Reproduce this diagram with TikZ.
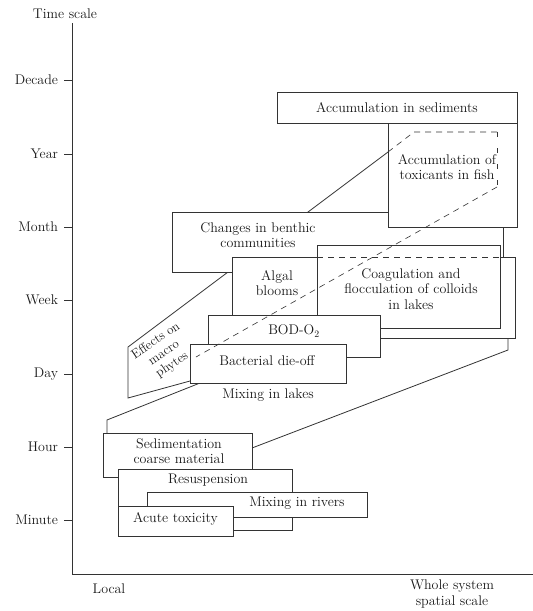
\documentclass[tikz,border=0pt]{standalone}
\usetikzlibrary{calc}
\begin{document}
\begin{tikzpicture}[x=1pt,y=-1pt, line width=0.8pt, draw=black!80,
  every node/.style={font=\fontsize{14}{15.5}\selectfont, inner sep=0pt, outer sep=0pt, align=center, text=black!90},
  bx/.style={draw=black!80, fill=white, line width=0.8pt},
  hid/.style={dash pattern=on 6pt off 5pt, line width=0.6pt},
  faint/.style={dash pattern=on 5pt off 11pt, line width=0.5pt}]
\useasboundingbox (0,0) rectangle (533,611);
% axes
\coordinate (ytop) at (72,23);
\coordinate (orig) at (72,574);
\coordinate (xend) at (533,574);
\draw (ytop) -- (orig) -- (xend);
\node (tscale) at (65,14) {Time scale};
\foreach \t/\y in {Decade/80,Year/154,Month/227,Week/300,Day/374,Hour/447,Minute/520}{
  \coordinate (tk\t) at (64,\y);
  \draw (tk\t) -- (72,\y);
  \node[anchor=east] (t\t) at (58,\y) {\t};
}
\node (local) at (109,589) {Local};
\node (whole) at (452,594) {Whole system\\spatial scale};

% Mixing in lakes and macrophyte lines (behind)
\coordinate (mlA) at (107,420);
\coordinate (mlB) at (508,350);
\coordinate (mA) at (128,347);
\coordinate (mB) at (128,398);

% geometry-only nodes for anchors
\path node[minimum width=149pt, minimum height=44pt] (sedimG) at (177.5,455) {};
\path node[minimum width=156pt, minimum height=39pt] (bactG) at (268,363.5) {};
\path node[minimum width=129pt, minimum height=104pt] (fishG) at (452.5,175) {};
\path node[minimum width=283pt, minimum height=81pt] (algalG) at (373.5,297.5) {};

\draw ([xshift=4pt]sedimG.north west) -- (mlA) -- ([xshift=10pt]bactG.south west);
\draw ([yshift=7pt]sedimG.east) -- (mlB) -- (algalG.south -| mlB);
\draw ([yshift=2pt]bactG.south west) -- (mB) -- (mA) -- ([yshift=23pt]fishG.west);

% upper boxes
\node[bx, minimum width=331pt, minimum height=60pt] (benthic) at (337.5,242) {};
\node[bx, minimum width=129pt, minimum height=104pt] (fish) at (452.5,175) {};
\node[bx, minimum width=240pt, minimum height=31pt] (sed) at (397,107.5) {Accumulation in sediments};
\node[bx, minimum width=283pt, minimum height=81pt] (algal) at (373.5,297.5) {};
\node[bx, minimum width=183pt, minimum height=83pt] (coag) at (408.5,286.5) {};
\node[bx, minimum width=172pt, minimum height=42pt] (bod) at (294,336) {};
\node[bx, minimum width=156pt, minimum height=39pt] (bact) at (268,363.5) {};

% lower boxes
\node[bx, minimum width=149pt, minimum height=44pt] (sedim) at (177.5,455) {};
\node[bx, minimum width=174pt, minimum height=61pt] (resusp) at (205,499.5) {};
\node[bx, minimum width=220pt, minimum height=25pt] (rivers) at (257,504.5) {};
\node[bx, minimum width=115pt, minimum height=30pt] (acute) at (175.5,521) {};

% hidden (dashed) edges
\coordinate (d1) at (414,132);
\coordinate (d2) at (497,132);
\coordinate (d3) at (497,187);
\coordinate (d4) at (196,357);
\draw[hid] ([yshift=23pt]fish.west) -- (d1) -- (d2);
\draw[faint] (d2) -- (d3);
\draw[hid] (d3) -- (d4);
\draw[hid] (coag.west |- algal.north) -- (coag.east |- algal.north);

% texts
\node (fishT) at (447,167) {Accumulation of\\toxicants in fish};
\node (benthicT) at (258,235) {Changes in benthic\\communities};
\node (algalT) at (277,283) {Algal\\blooms};
\node (coagT) at (411,289) {Coagulation and\\flocculation of colloids\\in lakes};
\node (bodT) at (294,331) {BOD-O\textsubscript{2}};
\node (bactT) at (267,361) {Bacterial die-off};
\node (lakesT) at (268,395) {Mixing in lakes};
\node[rotate=34, font=\fontsize{13}{14.5}\selectfont] (macroT) at (164,353) {Effects on\\macro\\phytes};
\node (sedimT) at (179,451) {Sedimentation\\coarse material};
\node (resuspT) at (208,480) {Resuspension};
\node (riversT) at (297,503) {Mixing in rivers};
\node (acuteT) at (175.5,519) {Acute toxicity};
\end{tikzpicture}
\end{document}
